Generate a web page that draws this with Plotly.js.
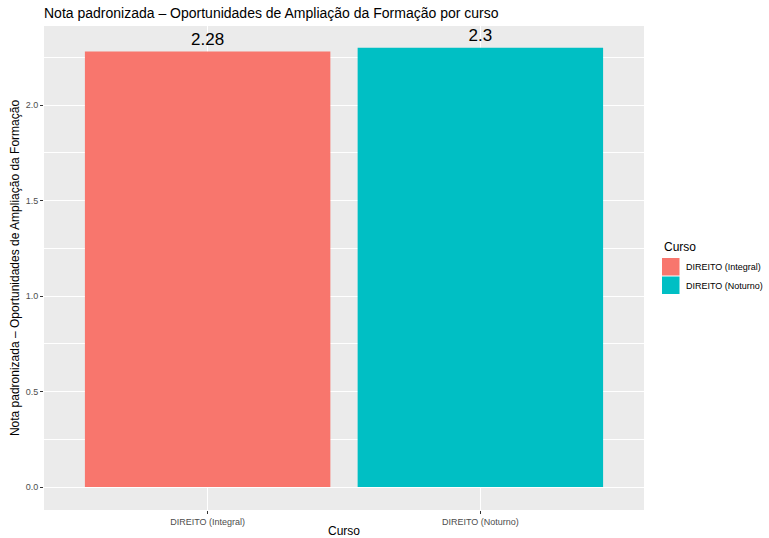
<!DOCTYPE html>
<html><head><meta charset="utf-8">
<script src="https://cdn.plot.ly/plotly-3.0.1.min.js"></script>
<style>body{margin:0}#c{width:769px;height:538px}</style>
</head><body><div id="c"></div>
<script>
const categories = ["DIREITO (Integral)", "DIREITO (Noturno)"];
const values = [2.28, 2.3];
const labels = ["2.28", "2.3"];
const colors = ["#F8766D", "#00BFC4"];
const legendTitle = "Curso";

const W = 769, H = 538;
const M = {l: 44, r: 125, t: 26, b: 28};
const pw = W - M.l - M.r, ph = H - M.t - M.b;
const px = x => (x - M.l) / pw;
const py = y => (H - M.b - y) / ph;

const traces = categories.map((c, i) => ({
  type: 'bar', x: [c], y: [values[i]], name: c, width: 0.9,
  marker: {color: colors[i]}, text: [labels[i]], textposition: 'outside',
  textfont: {size: 17, color: '#000', family: 'Liberation Sans, Arial, sans-serif'},
  cliponaxis: false, hoverinfo: 'none', showlegend: false
}));

const shapes = [], annotations = [];
annotations.push({xref: 'paper', yref: 'paper', x: px(662), y: py(247), xanchor: 'left', yanchor: 'middle',
  text: legendTitle, showarrow: false, font: {size: 12, color: '#000'}});
categories.forEach((c, i) => {
  const top = 258 + i * 18.5;
  shapes.push({type: 'rect', xref: 'paper', yref: 'paper', x0: px(662), x1: px(679.5), y0: py(top + 17.5), y1: py(top),
    fillcolor: colors[i], line: {width: 0}});
  annotations.push({xref: 'paper', yref: 'paper', x: px(684), y: py(top + 9), xanchor: 'left', yanchor: 'middle',
    text: c, showarrow: false, font: {size: 9, color: '#000'}});
});

const layout = {
  width: W, height: H,
  margin: M,
  paper_bgcolor: '#fff', plot_bgcolor: '#EBEBEB',
  font: {family: 'Liberation Sans, Arial, sans-serif', color: '#000'},
  barmode: 'overlay', showlegend: false,
  title: {text: 'Nota padronizada – Oportunidades de Ampliação da Formação por curso',
    x: 0, xref: 'paper', xanchor: 'left', y: 1 - 13/538, yanchor: 'middle',
    font: {size: 14, color: '#000'}},
  xaxis: {type: 'category', categoryarray: categories, range: [-0.6, 1.6],
    showgrid: true, gridcolor: '#fff', gridwidth: 1.2, zeroline: false,
    ticks: 'outside', ticklen: 3, tickcolor: '#333', tickwidth: 1,
    tickfont: {size: 9, color: '#4D4D4D'},
    title: {text: 'Curso', font: {size: 12}, standoff: 6}},
  yaxis: {range: [-0.12, 2.414], tickvals: [0, 0.5, 1, 1.5, 2],
    ticktext: ['0.0', '0.5', '1.0', '1.5', '2.0'],
    showgrid: true, gridcolor: '#fff', gridwidth: 1.2, zeroline: false,
    ticks: 'outside', ticklen: 3, tickcolor: '#333', tickwidth: 1,
    tickfont: {size: 9, color: '#4D4D4D'},
    minor: {tickvals: [0.25, 0.75, 1.25, 1.75, 2.25], showgrid: true, gridcolor: '#fff', gridwidth: 0.6, ticklen: 0},
    title: {text: 'Nota padronizada – Oportunidades de Ampliação da Formação', font: {size: 12}, standoff: 3}},
  shapes: shapes, annotations: annotations
};
Plotly.newPlot('c', traces, layout, {displayModeBar: false});
</script></body></html>
